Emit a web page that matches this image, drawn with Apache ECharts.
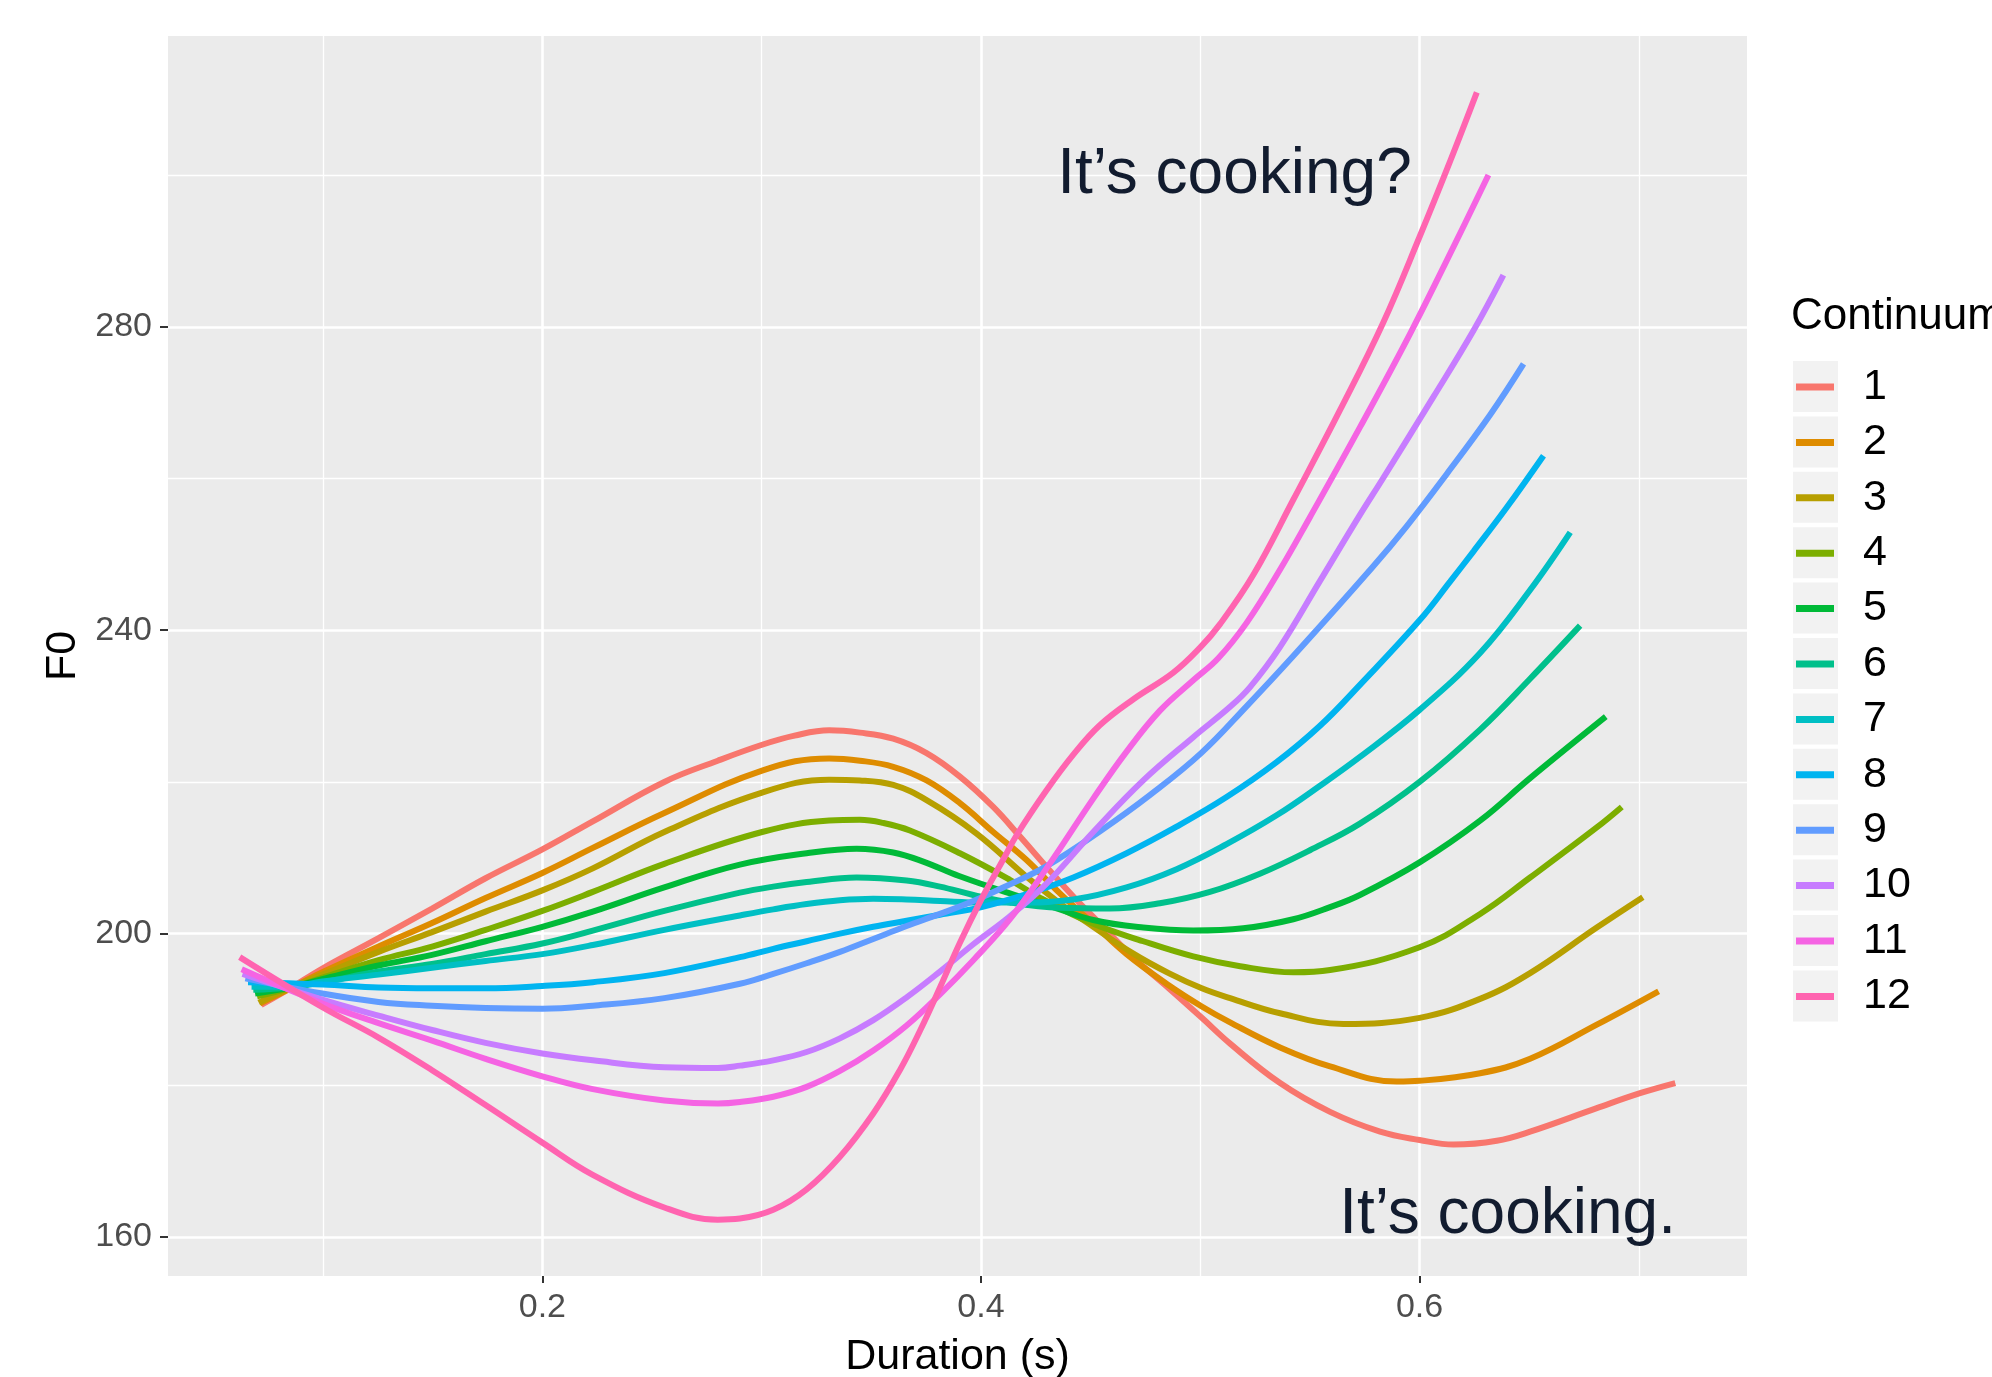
<!DOCTYPE html>
<html>
<head>
<meta charset="utf-8">
<script src="https://cdn.jsdelivr.net/npm/echarts@6/dist/echarts.min.js"></script>
<style>
html,body{margin:0;padding:0;background:#ffffff;}
#chart{width:1992px;height:1377px;}
</style>
</head>
<body>
<div id="chart"></div>
<script>
// ---------- data ----------
const seriesNames = ['1','2','3','4','5','6','7','8','9','10','11','12'];
const seriesColors = ['#F8766D','#DE8C00','#B79F00','#7CAE00','#00BA38','#00C08B','#00BFC4','#00B4F0','#619CFF','#C77CFF','#F564E3','#FF64B0'];

const c1 = [[0.0718,190.6],[0.0845,192.7],[0.0997,195.4],[0.1253,199.4],[0.1497,203.3],[0.1741,207.3],[0.2000,211.1],[0.2230,214.8],[0.2556,220.0],[0.2800,222.8],[0.3002,224.9],[0.3150,226.1],[0.3308,226.8],[0.3448,226.5],[0.3600,225.7],[0.3752,223.8],[0.3904,220.7],[0.4056,216.7],[0.4178,212.8],[0.4299,208.8],[0.4421,204.9],[0.4543,201.3],[0.4693,196.9],[0.4856,192.8],[0.5007,188.9],[0.5136,185.5],[0.5364,180.3],[0.5592,176.5],[0.5820,173.9],[0.6000,172.8],[0.6155,172.2],[0.6352,172.7],[0.6504,173.9],[0.6808,177.0],[0.7009,179.0],[0.7166,180.3]];
const c2 = [[0.0712,190.8],[0.0845,192.7],[0.0997,194.9],[0.1253,198.3],[0.1497,201.4],[0.1741,204.7],[0.2000,208.0],[0.2230,211.3],[0.2556,215.9],[0.3002,221.5],[0.3308,223.1],[0.3448,222.8],[0.3600,222.0],[0.3752,220.2],[0.3904,217.2],[0.4056,213.4],[0.4208,209.7],[0.4360,205.3],[0.4512,201.3],[0.4664,197.3],[0.4856,193.2],[0.5007,190.4],[0.5136,188.3],[0.5364,185.0],[0.5592,182.5],[0.5896,180.5],[0.6000,180.6],[0.6276,181.6],[0.6504,183.5],[0.6808,188.0],[0.7090,192.4]];
const c3 = [[0.0707,190.9],[0.0845,192.8],[0.0997,194.6],[0.1253,197.6],[0.1497,200.2],[0.1741,202.9],[0.2000,205.7],[0.2230,208.6],[0.2556,213.4],[0.3002,218.6],[0.3308,220.3],[0.3448,220.2],[0.3600,219.6],[0.3752,217.6],[0.3980,213.2],[0.4208,207.5],[0.4360,204.0],[0.4512,200.9],[0.4693,197.4],[0.4856,194.8],[0.5007,192.8],[0.5136,191.5],[0.5364,189.5],[0.5653,188.1],[0.6000,188.9],[0.6276,191.4],[0.6504,194.8],[0.6808,200.8],[0.7018,204.8]];
const c4 = [[0.0699,191.75],[0.0845,192.8],[0.0997,194.2],[0.1253,196.5],[0.1497,198.3],[0.1741,200.5],[0.2000,203.0],[0.2230,205.5],[0.2556,209.2],[0.3002,213.4],[0.3308,214.9],[0.3448,215.0],[0.3553,214.6],[0.3676,213.6],[0.3904,210.6],[0.4132,207.1],[0.4284,204.5],[0.4512,201.3],[0.4740,199.0],[0.4968,197.0],[0.5182,195.7],[0.5425,194.9],[0.5592,195.2],[0.6000,198.2],[0.6276,202.6],[0.6504,207.4],[0.6808,214.0],[0.6922,216.7]];
const c5 = [[0.0690,192.1],[0.0845,192.9],[0.0997,194.0],[0.1253,195.8],[0.1497,197.2],[0.1741,199.0],[0.2000,200.9],[0.2230,202.9],[0.2556,206.1],[0.2901,209.1],[0.3205,210.6],[0.3433,211.2],[0.3600,210.7],[0.3737,209.5],[0.3900,207.6],[0.4132,205.3],[0.4299,203.8],[0.4512,201.8],[0.4740,200.8],[0.4968,200.4],[0.5196,200.7],[0.5424,201.9],[0.5592,203.5],[0.5728,205.1],[0.6000,209.4],[0.6276,214.9],[0.6504,220.5],[0.6849,228.6]];
const c6 = [[0.0682,192.6],[0.0845,192.9],[0.0997,193.6],[0.1253,195.0],[0.1497,196.0],[0.1741,197.3],[0.2000,198.7],[0.2230,200.4],[0.2556,203.0],[0.2901,205.4],[0.3053,206.2],[0.3205,206.8],[0.3433,207.4],[0.3661,207.0],[0.3813,206.2],[0.3965,205.1],[0.4132,204.1],[0.4360,203.4],[0.4588,203.3],[0.4816,204.0],[0.5044,205.5],[0.5272,207.9],[0.5500,211.0],[0.5728,214.5],[0.6000,220.0],[0.6276,226.9],[0.6504,233.6],[0.6732,240.6]];
const c7 = [[0.0674,193.0],[0.0845,193.0],[0.0997,193.7],[0.1253,194.6],[0.1497,195.5],[0.1741,196.4],[0.2000,197.3],[0.2230,198.5],[0.2556,200.5],[0.2901,202.4],[0.3053,203.2],[0.3205,203.9],[0.3357,204.4],[0.3509,204.6],[0.3661,204.5],[0.3813,204.3],[0.4003,204.1],[0.4208,204.1],[0.4421,204.5],[0.4664,206.1],[0.4892,208.5],[0.5120,211.8],[0.5348,215.6],[0.5546,219.5],[0.5728,223.3],[0.6000,229.5],[0.6276,237.0],[0.6504,245.3],[0.6687,252.9]];
const c8 = [[0.0658,193.6],[0.0997,193.3],[0.1253,192.9],[0.1497,192.8],[0.1741,192.8],[0.2000,193.1],[0.2230,193.6],[0.2556,194.8],[0.2901,196.9],[0.3053,198.0],[0.3205,199.0],[0.3357,200.0],[0.3509,200.9],[0.3661,201.7],[0.3813,202.5],[0.4003,203.5],[0.4208,205.2],[0.4421,207.4],[0.4664,210.6],[0.4892,214.1],[0.5120,218.0],[0.5348,222.6],[0.5546,227.4],[0.5728,232.8],[0.6000,241.3],[0.6139,246.4],[0.6246,250.4],[0.6398,256.2],[0.6565,263.0]];
const c9 = [[0.0646,194.1],[0.0997,192.1],[0.1253,191.0],[0.1497,190.5],[0.1741,190.2],[0.2000,190.1],[0.2230,190.5],[0.2556,191.5],[0.2901,193.4],[0.3053,194.7],[0.3205,196.1],[0.3357,197.6],[0.3509,199.3],[0.3661,201.0],[0.3813,202.6],[0.3965,204.3],[0.4117,206.3],[0.4299,208.9],[0.4543,213.5],[0.4776,218.4],[0.5004,223.8],[0.5212,230.0],[0.5424,236.6],[0.5782,248.2],[0.5941,253.7],[0.6124,260.6],[0.6322,268.4],[0.6474,275.1]];
const c10 = [[0.0633,194.7],[0.0997,191.3],[0.1253,189.2],[0.1497,187.3],[0.1741,185.6],[0.2000,184.2],[0.2230,183.3],[0.2556,182.4],[0.2800,182.3],[0.2901,182.6],[0.3053,183.3],[0.3205,184.4],[0.3357,186.2],[0.3509,188.6],[0.3661,191.6],[0.3813,195.0],[0.3965,198.6],[0.4132,202.3],[0.4299,206.6],[0.4512,213.4],[0.4740,220.2],[0.4968,225.9],[0.5136,229.9],[0.5227,232.5],[0.5364,237.8],[0.5546,246.5],[0.5728,255.2],[0.5835,260.1],[0.6063,270.75],[0.6246,279.5],[0.6382,286.8]];
const c11 = [[0.0629,195.3],[0.0997,190.8],[0.1253,188.2],[0.1497,185.9],[0.1741,183.5],[0.2000,181.2],[0.2230,179.5],[0.2556,178.0],[0.2800,177.6],[0.2901,177.8],[0.3053,178.5],[0.3205,179.8],[0.3357,181.9],[0.3509,184.6],[0.3661,187.9],[0.3813,192.0],[0.3965,196.5],[0.4132,201.9],[0.4299,208.6],[0.4512,217.8],[0.4664,224.0],[0.4816,229.4],[0.4968,233.4],[0.5082,236.3],[0.5212,241.0],[0.5364,248.0],[0.5500,254.9],[0.5729,266.8],[0.5957,279.1],[0.6154,290.5],[0.6314,300.0]];
const c12 = [[0.0620,196.9],[0.0997,190.3],[0.1253,186.3],[0.1497,182.0],[0.1741,177.4],[0.2000,172.45],[0.2230,168.2],[0.2556,163.9],[0.2800,162.3],[0.2901,162.45],[0.3053,163.6],[0.3205,166.3],[0.3357,170.6],[0.3509,176.3],[0.3630,182.0],[0.3722,187.2],[0.3813,192.9],[0.3904,198.8],[0.4003,204.6],[0.4102,209.8],[0.4163,213.0],[0.4299,218.9],[0.4421,223.6],[0.4543,227.5],[0.4695,230.9],[0.4877,234.4],[0.4999,237.7],[0.5090,240.8],[0.5242,247.3],[0.5424,257.2],[0.5637,269.0],[0.5835,280.6],[0.6002,292.0],[0.6139,301.8],[0.6261,310.9]];
const curves = [c1,c2,c3,c4,c5,c6,c7,c8,c9,c10,c11,c12];

const xTicks = [0.2, 0.4, 0.6];
const xMinorTicks = [0.1, 0.3, 0.5, 0.7];
const yTicks = [160, 200, 240, 280];
const yMinorTicks = [180, 220, 260, 300];
const xRange = [0.0293, 0.7493];
const yRange = [154.87, 318.33];

const annotationTexts = ['It\u2019s cooking?', 'It\u2019s cooking.'];
const annotationX = [0.5156, 0.6401];
const annotationY = [300.0, 162.9];

const xTitle = 'Duration (s)';
const yTitle = 'F0';
const legendTitle = 'Continuum';

// ---------- chart ----------
const FONT = 'Liberation Sans, Arial, Helvetica, sans-serif';
const chart = echarts.init(document.getElementById('chart'), null, {renderer: 'canvas'});

const gridLineData = []
  .concat(xMinorTicks.map(v => ({xAxis: v, lineStyle: {width: 1.3}})))
  .concat(yMinorTicks.map(v => ({yAxis: v, lineStyle: {width: 1.3}})))
  .concat(xTicks.map(v => ({xAxis: v, lineStyle: {width: 2.6}})))
  .concat(yTicks.map(v => ({yAxis: v, lineStyle: {width: 2.6}})));

const series = [{
  type: 'line',
  name: '__grid',
  data: [],
  z: 1,
  silent: true,
  animation: false,
  markLine: {
    z: 1,
    silent: true,
    animation: false,
    symbol: ['none', 'none'],
    label: {show: false},
    emphasis: {disabled: true},
    lineStyle: {type: 'solid', color: '#FFFFFF'},
    data: gridLineData
  },
  markPoint: {
    z: 6,
    silent: true,
    animation: false,
    symbol: 'rect',
    symbolSize: 1,
    itemStyle: {color: 'rgba(0,0,0,0)'},
    label: {show: true, position: 'inside', fontSize: 64, color: '#121C2F', fontFamily: FONT,
            formatter: p => p.name},
    data: annotationTexts.map((t, i) => ({name: t, coord: [annotationX[i], annotationY[i]]}))
  }
}];

seriesNames.forEach((n, i) => {
  series.push({
    type: 'line',
    name: n,
    data: curves[i],
    showSymbol: false,
    symbol: 'none',
    smooth: 0.4,
    z: 3,
    animation: false,
    lineStyle: {width: 6, color: seriesColors[i], cap: 'butt'},
    itemStyle: {color: seriesColors[i]},
    emphasis: {disabled: true}
  });
});

const ROW = 55.4;
const keyBoxes = seriesNames.map((n, i) => ({
  type: 'rect',
  z: 0,
  silent: true,
  shape: {x: 1793, y: 361 + i * ROW, width: 45, height: 51},
  style: {fill: '#F2F2F2'}
}));

chart.setOption({
  backgroundColor: '#FFFFFF',
  animation: false,
  textStyle: {fontFamily: FONT},
  title: {
    text: legendTitle,
    left: 1791, top: 295, padding: 0,
    textStyle: {fontSize: 44, fontWeight: 'normal', color: '#000000', fontFamily: FONT}
  },
  grid: {
    left: 168, right: 245, top: 36, bottom: 101,
    containLabel: false,
    outerBoundsMode: 'none',
    show: true, backgroundColor: '#EBEBEB', borderWidth: 0, borderColor: 'transparent'
  },
  xAxis: {
    type: 'value', min: xRange[0], max: xRange[1],
    splitLine: {show: false}, minorSplitLine: {show: false},
    axisLine: {show: false},
    axisTick: {show: true, customValues: xTicks, length: 7, lineStyle: {color: '#333333', width: 2}},
    axisLabel: {customValues: xTicks, fontSize: 34, color: '#4D4D4D', margin: 15, fontFamily: FONT},
    name: xTitle, nameLocation: 'middle', nameGap: 60,
    nameTextStyle: {fontSize: 43, color: '#000000', fontFamily: FONT}
  },
  yAxis: {
    type: 'value', min: yRange[0], max: yRange[1],
    splitLine: {show: false}, minorSplitLine: {show: false},
    axisLine: {show: false},
    axisTick: {show: true, customValues: yTicks, length: 8, lineStyle: {color: '#333333', width: 2}},
    axisLabel: {customValues: yTicks, fontSize: 34, color: '#4D4D4D', margin: 16, fontFamily: FONT},
    name: yTitle, nameLocation: 'middle', nameGap: 67,
    nameTextStyle: {fontSize: 43, color: '#000000', fontFamily: FONT}
  },
  legend: {
    orient: 'vertical',
    left: 1796, top: 365,
    padding: 0,
    icon: 'rect',
    itemWidth: 38, itemHeight: 7, itemGap: ROW - 44,
    selectedMode: false,
    data: seriesNames,
    textStyle: {fontSize: 43, lineHeight: 44, color: '#000000', fontFamily: FONT, padding: [0, 0, 0, 24]}
  },
  graphic: keyBoxes,
  series: series
});
</script>
</body>
</html>
